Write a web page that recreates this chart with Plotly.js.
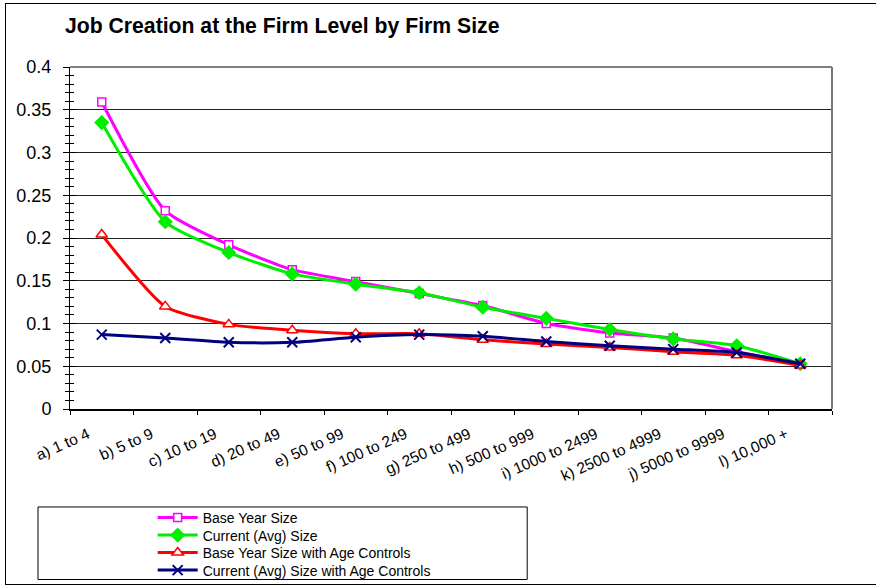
<!DOCTYPE html>
<html>
<head>
<meta charset="utf-8">
<script src="https://cdn.plot.ly/plotly-3.0.1.min.js"></script>
<style>
html,body{margin:0;padding:0;background:#fff;}
#frame{position:absolute;left:5px;top:3px;width:880px;height:580px;border-left:1px solid #000;border-top:1px solid #000;border-bottom:1px solid #000;}
#chart{position:absolute;left:0;top:0;width:876px;height:585px;}
</style>
</head>
<body>
<div id="frame"></div>
<div id="chart"></div>
<script>
const categories = ["a) 1 to 4","b) 5 to 9","c) 10 to 19","d) 20 to 49","e) 50 to 99","f) 100 to 249","g) 250 to 499","h) 500 to 999","i) 1000 to 2499","k) 2500 to 4999","j) 5000 to 9999","l) 10,000 +"];
const baseYearSize = [0.359,0.232,0.192,0.163,0.149,0.135,0.121,0.100,0.089,0.083,0.067,0.053];
const currentAvgSize = [0.335,0.219,0.183,0.158,0.146,0.136,0.119,0.106,0.093,0.082,0.074,0.053];
const baseYearAgeCtrl = [0.204,0.120,0.099,0.092,0.088,0.088,0.081,0.076,0.072,0.067,0.063,0.051];
const currentAvgAgeCtrl = [0.087,0.083,0.078,0.078,0.084,0.087,0.085,0.079,0.074,0.070,0.066,0.053];
const seriesNames = ["Base Year Size","Current (Avg) Size","Base Year Size with Age Controls","Current (Avg) Size with Age Controls"];
const yTicks = [0,0.05,0.1,0.15,0.2,0.25,0.3,0.35,0.4];
const yTickText = ["0","0.05","0.1","0.15","0.2","0.25","0.3","0.35","0.4"];

const ff = "Liberation Sans, Arial, sans-serif";
function tr(y, name, color, symbol, size, fill, legendId) {
  return {
    x: categories, y: y, name: name, type: "scatter", mode: "lines+markers", legend: legendId,
    line: {color: color, width: 3, shape: "spline", smoothing: 0.6},
    marker: {symbol: symbol, size: size, color: fill, line: {color: color, width: 1.5}},
    cliponaxis: false
  };
}
const data = [
  tr(baseYearSize, seriesNames[0], "#ff00ff", "square", 8, "#ffffff", "legend"),
  tr(currentAvgSize, seriesNames[1], "#00ee00", "diamond", 10, "#00ee00", "legend2"),
  tr(baseYearAgeCtrl, seriesNames[2], "#ff0000", "triangle-up", 10, "#ffffff", "legend3"),
  tr(currentAvgAgeCtrl, seriesNames[3], "#000080", "x-thin", 10, "#000080", "legend4"),
  {x: [], y: [], xaxis: "x", yaxis: "y2", showlegend: false, hoverinfo: "skip", type: "scatter"}
];
data[3].marker.line.width = 2;

function leg(yPix) {
  return {
    x: 0.1085, y: (409 - yPix) / 342, xanchor: "left", yanchor: "middle", orientation: "v",
    font: {family: ff, size: 14}, bgcolor: "rgba(0,0,0,0)", borderwidth: 0,
    itemwidth: 40, tracegroupgap: 0
  };
}

const layout = {
  width: 876, height: 585,
  margin: {l: 70, r: 44, t: 67, b: 176, autoexpand: false},
  paper_bgcolor: "rgba(0,0,0,0)", plot_bgcolor: "#fff",
  font: {family: ff, color: "#000"},
  showlegend: true,
  title: {text: "<b>Job Creation at the Firm Level by Firm Size</b>", font: {family: ff, size: 21.2, color: "#000"},
          xref: "container", x: 0.0742, xanchor: "left", yref: "container", y: 0.957, yanchor: "middle"},
  xaxis: {
    type: "category", tickson: "boundaries", ticks: "outside", ticklen: 4, tickcolor: "#000",
    showline: true, linecolor: "#000", linewidth: 1.5, mirror: false, showgrid: false, automargin: false,
    tickangle: -24, tickfont: {family: ff, size: 15.5}, range: [-0.5, 11.5], zeroline: false,
    ticklabelshift: -14, ticklabelstandoff: 9
  },
  yaxis: {
    range: [0, 0.4], tickvals: yTicks, ticktext: yTickText, ticks: "outside", ticklen: 6, tickcolor: "#000",
    showline: true, linecolor: "#000", linewidth: 1, showgrid: true, gridcolor: "#222", gridwidth: 1,
    zeroline: false, tickfont: {family: ff, size: 18}, automargin: false, ticklabelstandoff: 8,
    minor: {dtick: 0.01, ticks: "outside", ticklen: 4, tickcolor: "#000", showgrid: false}
  },
  yaxis2: {
    overlaying: "y", side: "left", range: [0, 0.4], tickvals: yTicks, ticks: "inside", ticklen: 6, tickcolor: "#000",
    showticklabels: false, showgrid: false, showline: false, zeroline: false, automargin: false,
    minor: {dtick: 0.01, ticks: "inside", ticklen: 4, tickcolor: "#000", showgrid: false}
  },
  shapes: [
    {type: "line", xref: "paper", yref: "paper", x0: 0, x1: 1, y0: 1, y1: 1, line: {color: "#000", width: 1}},
    {type: "line", xref: "paper", yref: "paper", x0: 1, x1: 1, y0: 0, y1: 1, line: {color: "#777", width: 2}},
    {type: "rect", xref: "paper", yref: "paper", x0: -0.042, x1: 0.6, y0: -0.4985, y1: -0.2865, line: {color: "#000", width: 1}}
  ],
  legend: leg(518),
  legend2: leg(535.5),
  legend3: leg(553),
  legend4: leg(570.5)
};
Plotly.newPlot("chart", data, layout, {displayModeBar: false, staticPlot: true});
</script>
</body>
</html>
